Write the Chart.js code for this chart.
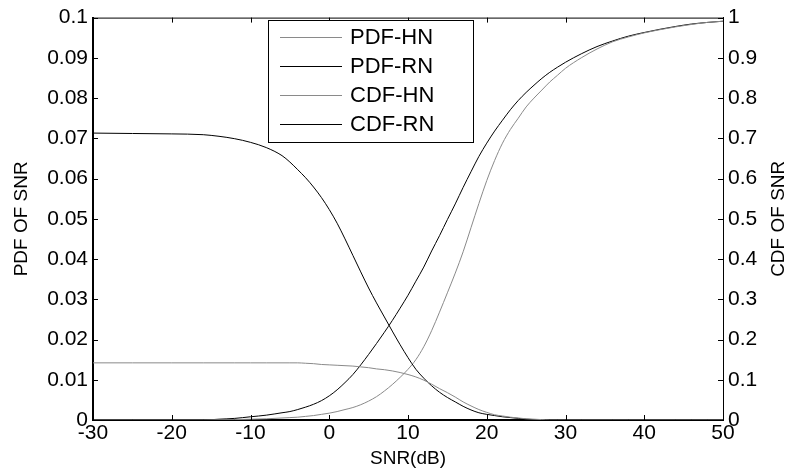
<!DOCTYPE html>
<html>
<head>
<meta charset="utf-8">
<script src="https://cdn.jsdelivr.net/npm/chart.js@4"></script>
<style>
  html, body { margin: 0; padding: 0; background: #fff; }
  #wrap { width: 785px; height: 472px; }
</style>
</head>
<body>
<div id="wrap"><canvas id="snrChart" width="785" height="472"></canvas></div>
<script>
// SNR in dB (x axis)
const snr = [-30, -25, -20, -16, -14, -12, -10, -8, -6, -5, -4,
  -3, -2, -1, 0, 1, 2, 3, 4, 5, 6, 7, 8, 9, 10, 11, 12, 13, 14, 15, 16,
  17, 18, 19, 20, 21, 22, 23, 24, 25, 26, 27, 28, 29, 30,
  32, 34, 36, 38, 40, 42, 44, 46, 48, 50];

// PDF values (left axis)
const pdfHN = [0.0142, 0.0142, 0.0142, 0.0142, 0.0142, 0.0142, 0.0142, 0.0142, 0.0142, 0.0142, 0.0142,
  0.0141, 0.0140, 0.0138, 0.0137, 0.0136, 0.0135, 0.0134, 0.0132, 0.0130, 0.0127, 0.0125, 0.0122, 0.0118, 0.0113, 0.0107, 0.0099,
  0.0089, 0.0078, 0.0068, 0.0057, 0.0045, 0.0035, 0.0026, 0.0019, 0.0013, 0.0010, 0.0007, 0.0005, 0.0003, 0.0002, 0.0001, 0, 0, 0,
  0, 0, 0, 0, 0, 0, 0, 0, 0, 0];
const pdfRN = [0.0713, 0.0712, 0.0711, 0.0709, 0.0705, 0.0699, 0.0690, 0.0677, 0.0657, 0.0641, 0.0622,
  0.0602, 0.0579, 0.0553, 0.0523, 0.0489, 0.0450, 0.0409, 0.0368, 0.0328, 0.0291, 0.0256, 0.0221, 0.0187, 0.0155, 0.0126, 0.0104,
  0.0085, 0.0069, 0.0056, 0.0045, 0.0034, 0.0025, 0.0018, 0.0014, 0.0011, 0.0008, 0.0006, 0.0004, 0.0002, 0.0001, 0.00005, 0, 0, 0,
  0, 0, 0, 0, 0, 0, 0, 0, 0, 0];

// CDF values (right axis)
const cdfHN = [0, 0, 0, 0, 0.0005, 0.001, 0.002, 0.003, 0.005, 0.006, 0.007,
  0.009, 0.011, 0.014, 0.017, 0.021, 0.026, 0.031, 0.038, 0.047, 0.058, 0.072, 0.088, 0.106, 0.126, 0.150, 0.182,
  0.222, 0.268, 0.316, 0.365, 0.418, 0.478, 0.538, 0.595, 0.645, 0.688, 0.722, 0.750, 0.778, 0.800, 0.820, 0.840, 0.857, 0.874,
  0.900, 0.922, 0.940, 0.952, 0.962, 0.970, 0.977, 0.983, 0.988, 0.991];
const cdfRN = [0, 0, 0, 0, 0.002, 0.004, 0.008, 0.012, 0.018, 0.021, 0.026,
  0.032, 0.039, 0.048, 0.060, 0.075, 0.093, 0.113, 0.137, 0.163, 0.190, 0.218, 0.247, 0.278, 0.310, 0.345, 0.380,
  0.420, 0.458, 0.498, 0.537, 0.578, 0.617, 0.655, 0.688, 0.718, 0.745, 0.771, 0.794, 0.814, 0.832, 0.849, 0.864, 0.877, 0.889,
  0.910, 0.928, 0.942, 0.954, 0.963, 0.971, 0.978, 0.984, 0.988, 0.991];

const seriesNames = ["PDF-HN", "PDF-RN", "CDF-HN", "CDF-RN"];
const xTicks = [-30, -20, -10, 0, 10, 20, 30, 40, 50];

const GRAY = "#8a8a8a";
const BLACK = "#000000";
const FONT = "'Liberation Sans', Arial, sans-serif";

const toPoints = ys => snr.map((x, i) => ({ x, y: ys[i] }));

function line(label, ys, color, axis) {
  return {
    label,
    data: toPoints(ys),
    yAxisID: axis,
    borderColor: color,
    backgroundColor: color,
    borderWidth: 1,
    pointRadius: 0,
    cubicInterpolationMode: "monotone",
    fill: false
  };
}

// ---------------- legend box + inward ticks (MATLAB look) ----------------
const matlabDecor = {
  id: "matlabDecor",
  afterDatasetsDraw(chart) {
    const { ctx, chartArea: a, scales } = chart;
    ctx.save();
    ctx.strokeStyle = "#000";
    ctx.lineWidth = 1;
    ctx.beginPath();
    ctx.moveTo(a.left, a.top + 0.5);
    ctx.lineTo(a.right, a.top + 0.5);
    scales.x.ticks.forEach(t => {
      const px = Math.round(scales.x.getPixelForValue(t.value)) + 0.5;
      ctx.moveTo(px, a.bottom); ctx.lineTo(px, a.bottom - 5);
      ctx.moveTo(px, a.top); ctx.lineTo(px, a.top + 5);
    });
    scales.y.ticks.forEach(t => {
      const py = Math.round(scales.y.getPixelForValue(t.value)) + 0.5;
      ctx.moveTo(a.left, py); ctx.lineTo(a.left + 5, py);
    });
    scales.y2.ticks.forEach(t => {
      const py = Math.round(scales.y2.getPixelForValue(t.value)) + 0.5;
      ctx.moveTo(a.right, py); ctx.lineTo(a.right - 5, py);
    });
    ctx.stroke();

    // legend
    const bx = 268, by = 20, bw = 205, bh = 122;
    ctx.fillStyle = "#fff";
    ctx.fillRect(bx, by, bw, bh);
    ctx.strokeRect(bx + 0.5, by + 0.5, bw, bh);
    ctx.font = "22px " + FONT;
    ctx.textBaseline = "middle";
    ctx.textAlign = "left";
    chart.data.datasets.forEach((ds, i) => {
      const yy = by + 17 + i * 29 + 0.5;
      ctx.strokeStyle = ds.borderColor;
      ctx.beginPath();
      ctx.moveTo(bx + 12, yy);
      ctx.lineTo(bx + 74, yy);
      ctx.stroke();
      ctx.fillStyle = "#000";
      ctx.fillText(ds.label, bx + 82, yy);
    });

    // right axis title, reading bottom to top like the left one
    ctx.translate(779, (a.top + a.bottom) / 2);
    ctx.rotate(-Math.PI / 2);
    ctx.font = "19px " + FONT;
    ctx.textAlign = "center";
    ctx.fillText("CDF OF SNR", 0, 0);
    ctx.restore();
  }
};

new Chart(document.getElementById("snrChart"), {
  type: "line",
  data: {
    datasets: [
      line(seriesNames[0], pdfHN, GRAY, "y"),
      line(seriesNames[1], pdfRN, BLACK, "y"),
      line(seriesNames[2], cdfHN, GRAY, "y2"),
      line(seriesNames[3], cdfRN, BLACK, "y2")
    ]
  },
  options: {
    responsive: false,
    animation: false,
    devicePixelRatio: 1,
    layout: { padding: { top: 16, left: 0, right: 0, bottom: 0 } },
    plugins: {
      legend: { display: false },
      tooltip: { enabled: false }
    },
    scales: {
      x: {
        type: "linear",
        min: -30,
        max: 50,
        afterBuildTicks: s => { s.ticks = xTicks.map(v => ({ value: v })); },
        afterFit: s => { s.height = 52; },
        grid: { display: false, drawTicks: false },
        border: { display: true, color: "#000", width: 2 },
        ticks: { color: "#000", font: { family: FONT, size: 21 }, padding: 1, maxRotation: 0 },
        title: { display: true, text: "SNR(dB)", color: "#000", font: { family: FONT, size: 19 }, padding: { top: 0, bottom: 2 } }
      },
      y: {
        position: "left",
        min: 0,
        max: 0.1,
        afterFit: s => { s.width = 93; },
        grid: { display: false, drawTicks: false },
        border: { display: true, color: "#000", width: 2 },
        ticks: { stepSize: 0.01, color: "#000", font: { family: FONT, size: 21 }, padding: 5,
          callback: v => String(Number(v.toFixed(2))) },
        title: { display: true, text: "PDF OF SNR", color: "#000", font: { family: FONT, size: 19 }, padding: { top: 10, bottom: 0 } }
      },
      y2: {
        position: "right",
        min: 0,
        max: 1,
        afterFit: s => { s.width = 62; },
        grid: { display: false, drawTicks: false },
        border: { display: true, color: "#000", width: 1 },
        ticks: { stepSize: 0.1, color: "#000", font: { family: FONT, size: 21 }, padding: 5,
          callback: v => String(Number(v.toFixed(1))) }
      }
    }
  },
  plugins: [matlabDecor]
});
</script>
</body>
</html>
